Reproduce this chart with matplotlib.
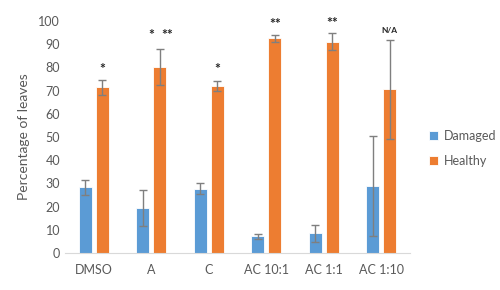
import matplotlib
matplotlib.use("Agg")
import matplotlib.pyplot as plt
import numpy as np

plt.rcParams['font.family'] = ['Lato', 'DejaVu Sans']

categories = ["DMSO", "A", "C", "AC 10:1", "AC 1:1", "AC 1:10"]
damaged = [28.3, 19.5, 27.7, 7.2, 8.5, 29.0]
damaged_err = [3.1, 7.8, 2.4, 1.2, 3.7, 21.5]
healthy = [71.4, 80.3, 72.1, 92.5, 91.1, 70.5]
healthy_err = [3.2, 7.8, 2.1, 1.5, 3.6, 21.4]
annotations = [["*"], ["*", "**"], ["*"], ["**"], ["**"], ["N/A"]]
annot_dx = [[0.0], [0.0, 0.28], [0.0], [0.0], [0.0], [0.0]]
annot_y = [79.5, 94, 79.5, 98.5, 99, 96]

blue = "#5B9BD5"
orange = "#ED7D31"
grey = "#595959"

fig = plt.figure(figsize=(5, 2.9), dpi=100)
ax = fig.add_axes([0.13, 0.1276, 0.69, 0.80])

x = np.arange(len(categories))
w = 0.225
gap = 0.035
ekw = dict(ecolor="#7f7f7f", elinewidth=1.0, capsize=3, capthick=1.0)
ax.bar(x - w/2 - gap, damaged, w, yerr=damaged_err, color=blue,
       edgecolor="white", linewidth=0.6, label="Damaged", error_kw=ekw)
ax.bar(x + w/2 + gap, healthy, w, yerr=healthy_err, color=orange,
       edgecolor="white", linewidth=0.6, label="Healthy", error_kw=ekw)

for i in range(len(categories)):
    for t, dx in zip(annotations[i], annot_dx[i]):
        fs = 6 if t == "N/A" else 10
        cx = x[i] + dx if i == 1 else x[i] + w/2 + gap
        ax.text(cx, annot_y[i], t, ha="center", va="center",
                fontsize=fs, color="#262626", fontweight="bold")

ax.set_xlim(-0.5, len(categories) - 0.5)
ax.set_ylim(0, 100)
ax.set_yticks(np.arange(0, 101, 10))
ax.set_xticks(x)
ax.set_xticklabels(categories)
ax.tick_params(axis="both", length=0, colors=grey, labelsize=9)
ax.tick_params(axis="x", pad=8)
for s in ["top", "right", "left"]:
    ax.spines[s].set_visible(False)
ax.spines["bottom"].set_color("#d9d9d9")
ax.set_ylabel("Percentage of leaves", color=grey, fontsize=10, labelpad=6)

leg = fig.legend(loc="upper left", bbox_to_anchor=(0.835, 0.59), frameon=False,
                 fontsize=9, handlelength=0.7, handleheight=0.7,
                 labelspacing=1.0, handletextpad=0.5)
for t in leg.get_texts():
    t.set_color(grey)

fig.savefig("out.png", dpi=100)
